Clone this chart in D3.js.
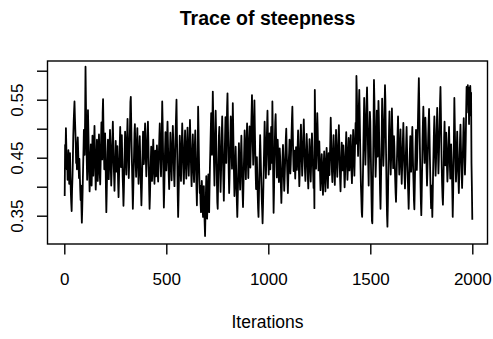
<!DOCTYPE html>
<html>
<head>
<meta charset="utf-8">
<script src="https://cdn.jsdelivr.net/npm/d3@7"></script>
<style>
  html, body { margin: 0; padding: 0; background: #fff; }
  svg { display: block; }
  text { font-family: "Liberation Sans", Arial, Helvetica, sans-serif; fill: #000; }
</style>
</head>
<body>
<svg id="chart" width="493" height="339"></svg>
<script>
// MCMC trace of the steepness parameter, one stored draw every 2 iterations
const chartTitle = "Trace of steepness";
const xTitle = "Iterations";
const iterStep = 2;
const xTicks = [0, 500, 1000, 1500, 2000];
const yTicks = [0.35, 0.40, 0.45, 0.50, 0.55, 0.60];
const yTickLabels = ["0.35", "", "0.45", "", "0.55", ""];

// sampled values, in thousandths
const steepnessMilli = [
  // 2 - 100
  384,472,455,501,468,430,451,412,440,463, 447,405,433,458,420,391,372,358,392,415,
  446,488,512,531,547,520,498,476,441,452, 430,468,485,462,437,415,448,421,396,377,
  402,365,338,362,395,430,462,498,471,455,
  // 102 - 200
  520,607,548,489,447,412,438,532,497,461, 425,392,410,446,473,430,402,436,488,459,
  419,447,476,505,463,428,395,417,452,481, 444,410,433,466,490,455,421,404,438,475,
  511,482,447,527,551,503,468,430,459,492,
  // 202 - 300
  461,398,356,389,427,455,481,446,413,437, 469,498,472,431,402,425,458,487,512,476,
  440,418,393,421,450,479,455,426,448,470, 437,404,382,411,445,476,503,468,434,459,
  489,451,418,396,367,392,428,462,495,473,
  // 302 - 400
  448,421,456,489,517,482,447,415,438,471, 503,546,555,512,470,433,398,362,391,426,
  459,492,508,474,441,417,445,478,501,466, 432,405,428,461,487,452,419,394,368,397,
  431,464,495,470,439,458,486,509,477,444,
  // 402 - 500
  418,441,473,496,512,478,438,395,362,384, 417,446,469,438,410,433,457,481,452,421,
  405,437,462,446,418,440,471,449,425,409, 436,463,487,509,474,441,418,452,498,547,
  512,463,408,364,392,430,467,494,461,428,
  // 502 - 600
  452,486,512,479,443,417,396,428,460,493, 468,436,411,447,472,505,481,449,418,401,
  433,467,498,525,550,496,441,386,348,379, 415,452,488,463,431,410,445,476,509,484,
  453,422,405,438,470,497,466,437,414,449,
  // 602 - 700
  478,502,471,440,419,447,479,515,486,452, 423,401,434,466,490,458,427,408,441,473,
  497,462,431,396,368,412,455,538,497,452, 413,389,402,371,356,384,410,392,367,348,
  379,401,363,337,315,352,386,418,371,345,
  // 702 - 800
  368,392,421,384,356,398,437,466,498,527, 491,455,512,564,523,478,436,402,448,489,
  531,497,452,410,373,362,405,447,489,503, 468,429,391,418,456,492,521,487,443,408,
  376,412,451,486,520,478,441,497,538,561,
  // 802 - 900
  512,468,426,389,414,452,487,521,498,463, 431,472,544,503,458,417,384,401,436,469,
  438,402,371,348,376,412,447,475,443,416, 395,429,462,488,454,419,388,365,397,432,
  466,497,471,440,413,448,483,509,476,442,
  // 902 - 1000
  415,447,479,504,468,433,462,497,528,558, 516,472,438,465,509,549,503,461,424,396,
  428,451,418,387,362,348,381,419,456,489, 462,431,404,378,359,337,366,402,441,476,
  512,483,448,415,439,472,506,531,489,452,
  // 1002 - 1100
  421,458,492,461,430,468,503,472,441,547, 498,412,355,391,436,478,512,525,487,449,
  416,447,481,462,430,408,439,466,451,423, 397,372,401,428,455,472,447,419,393,412,
  437,461,484,500,468,436,410,389,415,442,
  // 1102 - 1200
  458,481,447,423,439,466,492,518,538,496, 455,427,448,462,436,414,441,468,452,429,
  443,471,497,463,428,401,422,456,489,507, 478,446,419,437,465,493,516,484,451,425,
  410,438,463,491,472,443,415,397,428,455,
  // 1202 - 1300
  482,461,434,409,438,466,492,471,447,420, 398,426,363,567,512,466,431,458,489,527,
  501,463,428,445,478,452,419,394,412,438, 456,431,407,386,414,443,461,438,409,392,
  421,449,467,441,416,398,427,458,443,420,
  // 1302 - 1400
  452,483,519,488,451,425,408,436,464,489, 458,427,403,431,462,498,472,444,417,436,
  461,487,506,473,441,413,392,419,447,476, 455,428,448,471,451,423,399,415,443,469,
  494,466,437,412,431,459,484,453,428,446,
  // 1402 - 1500
  462,489,455,424,406,438,471,498,467,441, 419,452,486,510,474,591,562,522,487,453,
  501,539,567,528,479,436,402,381,356,348, 379,421,467,512,553,521,476,438,469,514,
  548,571,532,481,437,402,455,497,529,512,
  // 1502 - 1600
  468,421,378,341,337,389,446,512,584,551, 503,458,417,442,488,531,497,452,489,548,
  519,471,428,389,362,401,447,493,552,517, 478,436,459,497,536,575,548,492,438,387,
  351,331,368,414,459,503,530,488,452,421,
  // 1602 - 1700
  447,489,535,501,466,432,458,487,469,438, 412,389,374,403,437,468,497,521,484,449,
  421,446,472,499,465,432,405,431,458,484, 510,478,443,418,397,422,451,478,503,469,
  436,411,388,362,391,428,462,487,455,426,
  // 1702 - 1800
  449,478,503,467,431,405,376,361,398,437, 472,498,464,429,452,487,521,556,587,542,
  493,448,407,372,351,386,431,479,512,538, 503,468,441,486,519,497,462,431,402,427,
  458,489,512,534,496,453,417,388,363,402,
  // 1802 - 1900
  376,348,385,428,462,497,521,489,454,419, 441,476,508,536,497,458,423,448,481,512,
  548,572,529,477,436,404,382,369,398,441, 485,512,473,437,461,493,467,432,409,428,
  455,482,503,469,438,414,447,473,451,426,
  // 1902 - 2000
  392,348,385,437,489,553,512,471,438,409, 432,468,495,463,431,412,389,418,452,484,
  507,473,444,419,398,427,461,493,518,489, 455,421,447,482,531,572,549,563,575,528,
  566,508,571,523,574,549,562,441,398,343
];

const draws = steepnessMilli.map((v, i) => ({ iter: (i + 1) * iterStep, value: v / 1000 }));

const svg = d3.select("#chart");
svg.append("rect").attr("width", 493).attr("height", 339).attr("fill", "#fff");

// plotting region
const box = { left: 47.5, right: 487.5, top: 61, bottom: 244 };

const x = d3.scaleLinear().domain([0, 2000]).range([64.3, 472.3]);
const y = d3.scaleLinear().domain([0.35, 0.60]).range([215.7, 70.7]);

// trace line
const line = d3.line().x(d => x(d.iter)).y(d => y(d.value));
svg.append("path")
  .datum(draws)
  .attr("d", line)
  .attr("fill", "none")
  .attr("stroke", "#000")
  .attr("stroke-width", 1.8)
  .attr("stroke-linejoin", "round");

// frame
svg.append("rect")
  .attr("x", box.left).attr("y", box.top)
  .attr("width", box.right - box.left).attr("height", box.bottom - box.top)
  .attr("fill", "none").attr("stroke", "#000").attr("stroke-width", 1.4);

// x axis
const xAxis = svg.append("g")
  .attr("transform", `translate(0,${box.bottom})`)
  .call(d3.axisBottom(x).tickValues(xTicks).tickSize(10.5).tickFormat(d3.format("d")));
xAxis.select(".domain").remove();
xAxis.selectAll(".tick line").attr("stroke", "#000").attr("stroke-width", 1.4);
xAxis.selectAll(".tick text")
  .attr("y", 41).attr("dy", 0)
  .attr("font-size", 17).attr("fill", "#000");

// y axis with labels parallel to the axis
const yAxis = svg.append("g")
  .attr("transform", `translate(${box.left},0)`)
  .call(d3.axisLeft(y).tickValues(yTicks).tickSize(10.5)
    .tickFormat((d, i) => yTickLabels[i]));
yAxis.select(".domain").remove();
yAxis.selectAll(".tick line").attr("stroke", "#000").attr("stroke-width", 1.4);
yAxis.selectAll(".tick text")
  .attr("transform", "rotate(-90)")
  .attr("x", 0).attr("y", -24.5).attr("dy", 0)
  .attr("text-anchor", "middle")
  .attr("font-size", 17).attr("fill", "#000");

// titles
svg.append("text")
  .attr("x", (box.left + box.right) / 2).attr("y", 25)
  .attr("text-anchor", "middle")
  .attr("font-size", 19.5).attr("font-weight", "bold")
  .text(chartTitle);

svg.append("text")
  .attr("x", (box.left + box.right) / 2).attr("y", 328.3)
  .attr("text-anchor", "middle")
  .attr("font-size", 17.5)
  .text(xTitle);
</script>
</body>
</html>
